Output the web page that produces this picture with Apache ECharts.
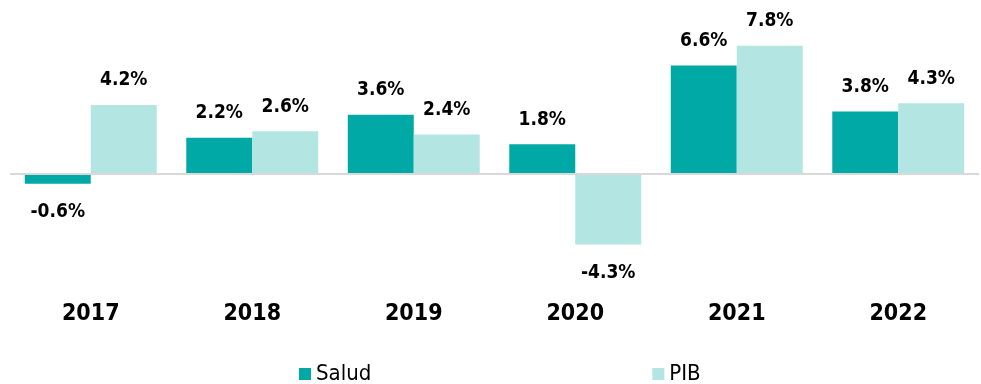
<!DOCTYPE html>
<html>
<head>
<meta charset="utf-8">
<script src="https://cdn.jsdelivr.net/npm/echarts@6/dist/echarts.min.js"></script>
<style>
  html, body { margin: 0; padding: 0; background: #ffffff; }
  #chart { width: 981px; height: 384px; }
</style>
</head>
<body>
<div id="chart"></div>
<script>
// Annual growth: health spending vs GDP
const years = ['2017', '2018', '2019', '2020', '2021', '2022'];
const saludValues = [-0.6, 2.2, 3.6, 1.8, 6.6, 3.8];
const pibValues = [4.2, 2.6, 2.4, -4.3, 7.8, 4.3];
const seriesNames = ['Salud', 'PIB'];

const FONT = '"DejaVu Sans Condensed", "DejaVu Sans", Verdana, sans-serif';
const COLOR_SALUD = '#00A9A6';
const COLOR_PIB = '#B3E5E3';

function valueLabel() {
  return {
    show: true,
    position: 'top',
    distance: 15,
    fontFamily: FONT,
    fontWeight: 'bold',
    fontSize: 19,
    color: '#000000',
    formatter: p => p.value.toFixed(1) + '%'
  };
}

function barData(values) {
  // negative values carry their label beneath the bar
  return values.map(v => v < 0
    ? { value: v, label: { position: 'bottom', distance: 19 } }
    : v);
}

const chart = echarts.init(document.getElementById('chart'), null, { renderer: 'canvas' });

chart.setOption({
  animation: false,
  backgroundColor: '#ffffff',
  grid: { left: 10, right: 2, top: 26, height: 263, containLabel: false },
  legend: {
    data: seriesNames,
    left: 294,
    top: 358,
    itemWidth: 12,
    itemHeight: 12,
    itemGap: 281,
    icon: 'rect',
    textStyle: { fontFamily: FONT, fontSize: 22, color: '#000000' }
  },
  xAxis: {
    type: 'category',
    data: years,
    axisLine: { show: false, onZero: false },
    axisTick: { show: false },
    axisLabel: {
      margin: 14,
      fontFamily: FONT,
      fontWeight: 'bold',
      fontSize: 23,
      color: '#000000'
    }
  },
  yAxis: {
    type: 'value',
    min: -7,
    max: 9,
    show: false,
    splitLine: { show: false }
  },
  series: [
    {
      name: seriesNames[0],
      type: 'bar',
      data: barData(saludValues),
      itemStyle: { color: COLOR_SALUD },
      barGap: '0%',
      barCategoryGap: '18.3%',
      label: valueLabel(),
      markLine: {
        silent: true,
        symbol: 'none',
        label: { show: false },
        lineStyle: { color: '#D9D9D9', width: 2, type: 'solid' },
        data: [{ yAxis: 0 }]
      }
    },
    {
      name: seriesNames[1],
      type: 'bar',
      data: barData(pibValues),
      itemStyle: { color: COLOR_PIB },
      barGap: '0%',
      barCategoryGap: '18.3%',
      label: valueLabel()
    }
  ]
});
</script>
</body>
</html>
